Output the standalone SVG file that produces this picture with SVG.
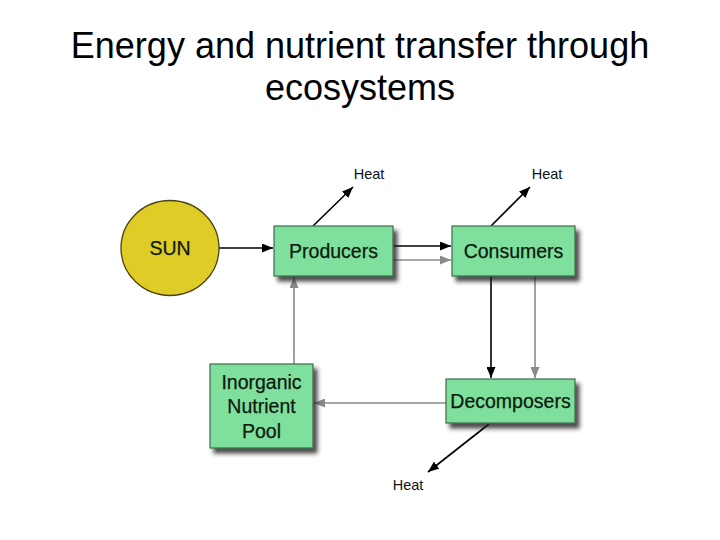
<svg xmlns="http://www.w3.org/2000/svg" width="720" height="540" viewBox="0 0 720 540">
<style>
.title{font-family:"Liberation Sans",Arial,sans-serif;font-size:36px;fill:#000;text-anchor:middle}
.lbl{font-family:"Liberation Sans",Arial,sans-serif;font-size:19.5px;fill:#0c1a0e;stroke:#0c1a0e;stroke-width:0.25;text-anchor:middle}
.heat{font-family:"Liberation Sans",Arial,sans-serif;font-size:14.5px;fill:#111;text-anchor:middle}
.box{fill:#7fdf9c;stroke:#3f6b4e;stroke-width:1.2;filter:url(#sh)}
.k{stroke:#000;stroke-width:1.6;fill:none;marker-end:url(#ak)}
.g{stroke:#8a8a8a;stroke-width:1.6;fill:none;marker-end:url(#ag)}
</style>
<defs>
<filter id="sh" x="-20%" y="-20%" width="150%" height="150%">
<feDropShadow dx="4" dy="5" stdDeviation="2" flood-color="#222" flood-opacity="0.8"/>
</filter>
<marker id="ak" viewBox="0 0 10 10" refX="10" refY="5" markerWidth="11" markerHeight="9" markerUnits="userSpaceOnUse" orient="auto" preserveAspectRatio="none">
<path d="M0,0 L10,5 L0,10 z" fill="#000"/>
</marker>
<marker id="ag" viewBox="0 0 10 10" refX="10" refY="5" markerWidth="11" markerHeight="9" markerUnits="userSpaceOnUse" orient="auto" preserveAspectRatio="none">
<path d="M0,0 L10,5 L0,10 z" fill="#8a8a8a"/>
</marker>
</defs>
<rect width="720" height="540" fill="#fff"/>
<text class="title" x="360" y="58">Energy and nutrient transfer through</text>
<text class="title" x="360" y="100">ecosystems</text>

<g id="connectors">
<line class="k" x1="219" y1="248" x2="273" y2="248"/>
<line class="k" x1="393" y1="246" x2="451" y2="246"/>
<line class="g" x1="393" y1="260" x2="451" y2="260"/>
<line class="k" x1="491" y1="276" x2="491" y2="378"/>
<line class="g" x1="535" y1="276" x2="535" y2="378"/>
<line class="g" x1="446" y1="403" x2="314" y2="403"/>
<line class="g" x1="294" y1="364" x2="294" y2="277"/>
<line class="k" x1="313" y1="226" x2="353" y2="187"/>
<line class="k" x1="491" y1="226" x2="530" y2="187"/>
<line class="k" x1="489" y1="424" x2="428" y2="472"/>
</g>

<g id="sun">
<ellipse cx="170" cy="248" rx="49" ry="47.5" fill="#e0cc27" stroke="#4a4010" stroke-width="1.3"/>
<text class="lbl" x="170" y="255">SUN</text>
</g>
<g id="producers">
<rect class="box" x="274" y="226" width="119" height="50"/>
<text class="lbl" x="333.5" y="258">Producers</text>
</g>
<g id="consumers">
<rect class="box" x="452" y="226" width="123" height="50"/>
<text class="lbl" x="513.5" y="258">Consumers</text>
</g>
<g id="decomposers">
<rect class="box" x="446" y="379" width="129" height="44"/>
<text class="lbl" x="510.5" y="408">Decomposers</text>
</g>
<g id="inorganic">
<rect class="box" x="210" y="364" width="103" height="84"/>
<text class="lbl" x="261.5" y="389">Inorganic</text>
<text class="lbl" x="261.5" y="413">Nutrient</text>
<text class="lbl" x="261.5" y="438">Pool</text>
</g>
<g id="heat1"><text class="heat" x="369" y="179">Heat</text></g>
<g id="heat2"><text class="heat" x="547" y="179">Heat</text></g>
<g id="heat3"><text class="heat" x="408" y="490">Heat</text></g>
</svg>
